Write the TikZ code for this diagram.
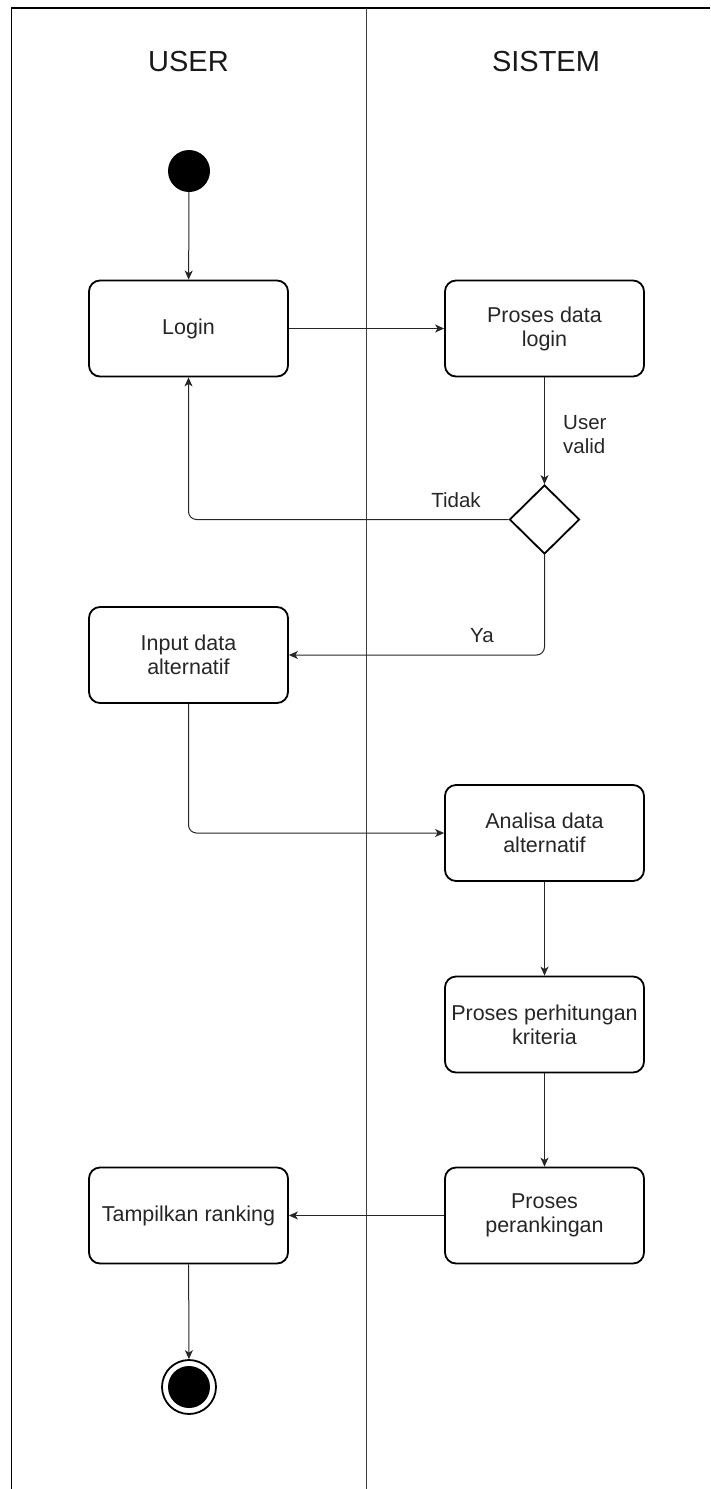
\documentclass[tikz,border=0pt]{standalone}
\usepackage{fontspec}
\setmainfont{Liberation Sans}
\usetikzlibrary{arrows.meta,shapes.geometric}
\begin{document}
\begin{tikzpicture}[x=1pt,y=-1pt,
  act/.style={draw=black,line width=1.8pt,rounded corners=11pt,minimum width=199pt,minimum height=96pt,inner sep=0pt,align=center,font=\fontsize{21.5}{24}\selectfont,text=black!85},
  lbl/.style={font=\fontsize{20.5}{24}\selectfont,text=black!85,align=left,inner sep=0pt},
  ttl/.style={font=\fontsize{29}{32}\selectfont,text=black!90,inner sep=0pt},
  flow/.style={draw=black!85,line width=1pt,-{Stealth[length=9pt,width=8pt,inset=2.5pt]}},
  lane/.style={draw=black!75,line width=1pt},
  frame/.style={draw=black,line width=1.6pt}]
\useasboundingbox (0,0) rectangle (710,1489);
% swimlanes
\coordinate (tl) at (11.5,8);
\coordinate (tr) at (710,8);
\coordinate (bl) at (11.5,1489);
\coordinate (mt) at (366.5,8);
\coordinate (mb) at (366.5,1489);
\draw[frame] (bl) -- (tl) -- (tr);
\draw[lane] (mt) -- (mb);
\node[ttl] (tuser) at (188.5,62) {USER};
\node[ttl] (tsys) at (546,62) {SISTEM};
% nodes
\node[circle,fill=black,minimum size=42pt,inner sep=0pt] (start) at (189,171) {};
\node[act] (login) at (188.5,328.5) {Login};
\node[act] (proc) at (544.5,328.5) {Proses data\\login};
\node[diamond,draw=black,line width=1.8pt,minimum width=70pt,minimum height=69pt,inner sep=0pt] (dec) at (544.5,519.5) {};
\node[act] (input) at (188.5,655) {Input data\\alternatif};
\node[act] (analisa) at (544.5,833) {Analisa data\\alternatif};
\node[act] (hitung) at (544.5,1024.5) {Proses perhitungan\\kriteria};
\node[act] (rank) at (544.5,1215.5) {Proses\\perankingan};
\node[act] (tampil) at (188.5,1215.5) {Tampilkan ranking};
\node[circle,draw=black,line width=1.8pt,minimum size=54pt,inner sep=0pt] (end) at (189,1387) {};
\fill[black] (end.center) circle (21pt);
% labels
\node[lbl,anchor=west] (lvalid) at (563,435) {User\\valid};
\node[lbl] (ltidak) at (456,500) {Tidak};
\node[lbl] (lya) at (482,636) {Ya};
% connectors
\draw[flow] (start) -- (login);
\draw[flow] (login) -- (proc);
\draw[flow] (proc) -- (dec);
\draw[flow,rounded corners=8pt] (dec.west) -| (login.south);
\draw[flow,rounded corners=8pt] (dec.south) |- (input.east);
\draw[flow,rounded corners=8pt] (input.south) |- (analisa.west);
\draw[flow] (analisa) -- (hitung);
\draw[flow] (hitung) -- (rank);
\draw[flow] (rank) -- (tampil);
\draw[flow] (tampil) -- (end);
\end{tikzpicture}
\end{document}
